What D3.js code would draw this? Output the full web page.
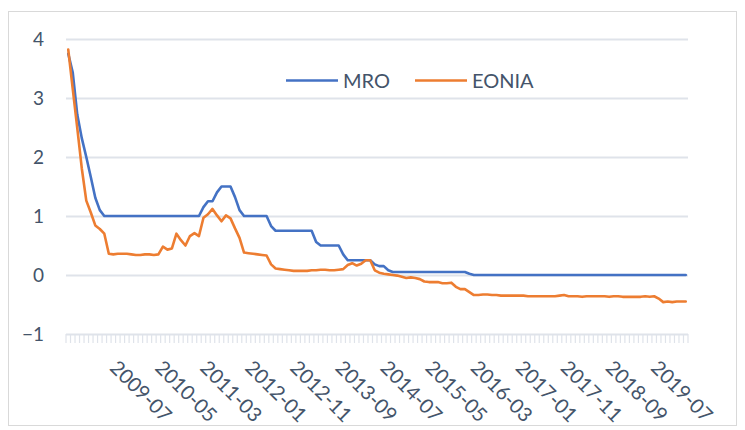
<!DOCTYPE html>
<html>
<head>
<meta charset="utf-8">
<script src="https://cdn.jsdelivr.net/npm/d3@7"></script>
<style>
  html, body { margin: 0; padding: 0; background: #fff; }
  svg { display: block; font-family: Lato, "Open Sans", sans-serif; }
</style>
</head>
<body>
<svg id="chart" width="745" height="430"></svg>
<script>
// ---- data ----
const startMonth = "2008-10";
const mro = [
  3.75, 3.43, 2.72,
  2.32, 2.00, 1.66, 1.31, 1.10, 1.00, 1.00, 1.00, 1.00, 1.00, 1.00, 1.00,
  1.00, 1.00, 1.00, 1.00, 1.00, 1.00, 1.00, 1.00, 1.00, 1.00, 1.00, 1.00,
  1.00, 1.00, 1.00, 1.15, 1.25, 1.25, 1.40, 1.50, 1.50, 1.50, 1.32, 1.10,
  1.00, 1.00, 1.00, 1.00, 1.00, 1.00, 0.83, 0.75, 0.75, 0.75, 0.75, 0.75,
  0.75, 0.75, 0.75, 0.75, 0.56, 0.50, 0.50, 0.50, 0.50, 0.50, 0.35, 0.25,
  0.25, 0.25, 0.25, 0.25, 0.25, 0.18, 0.15, 0.15, 0.08, 0.05, 0.05, 0.05,
  0.05, 0.05, 0.05, 0.05, 0.05, 0.05, 0.05, 0.05, 0.05, 0.05, 0.05, 0.05,
  0.05, 0.05, 0.02, 0.00, 0.00, 0.00, 0.00, 0.00, 0.00, 0.00, 0.00, 0.00,
  0.00, 0.00, 0.00, 0.00, 0.00, 0.00, 0.00, 0.00, 0.00, 0.00, 0.00, 0.00,
  0.00, 0.00, 0.00, 0.00, 0.00, 0.00, 0.00, 0.00, 0.00, 0.00, 0.00, 0.00,
  0.00, 0.00, 0.00, 0.00, 0.00, 0.00, 0.00, 0.00, 0.00, 0.00, 0.00, 0.00,
  0.00, 0.00, 0.00
];
const eonia = [
  3.82, 3.15, 2.49,
  1.81, 1.26, 1.06, 0.84, 0.78, 0.70, 0.36, 0.35, 0.36, 0.36, 0.36, 0.35,
  0.34, 0.34, 0.35, 0.35, 0.34, 0.35, 0.48, 0.43, 0.45, 0.70, 0.59, 0.50,
  0.66, 0.71, 0.66, 0.97, 1.03, 1.12, 1.01, 0.91, 1.01, 0.96, 0.79, 0.63,
  0.38, 0.37, 0.36, 0.35, 0.34, 0.33, 0.18, 0.11, 0.10, 0.09, 0.08, 0.07,
  0.07, 0.07, 0.07, 0.08, 0.08, 0.09, 0.09, 0.08, 0.08, 0.09, 0.10, 0.17,
  0.20, 0.16, 0.19, 0.25, 0.25, 0.08, 0.04, 0.02, 0.01, 0.00, -0.01, -0.03,
  -0.05, -0.04, -0.05, -0.07, -0.11, -0.12, -0.12, -0.12, -0.14, -0.14, -0.13, -0.20,
  -0.24, -0.24, -0.29, -0.34, -0.34, -0.33, -0.33, -0.34, -0.34, -0.35, -0.35, -0.35,
  -0.35, -0.35, -0.35, -0.36, -0.36, -0.36, -0.36, -0.36, -0.36, -0.36, -0.35, -0.34,
  -0.36, -0.36, -0.36, -0.37, -0.36, -0.36, -0.36, -0.36, -0.36, -0.37, -0.36, -0.36,
  -0.37, -0.37, -0.37, -0.37, -0.37, -0.36, -0.37, -0.36, -0.40, -0.46, -0.45, -0.46,
  -0.45, -0.45, -0.45
];
const yTicks = [-1, 0, 1, 2, 3, 4];
const xTickLabels = ["2009-07", "2010-05", "2011-03", "2012-01", "2012-11", "2013-09",
  "2014-07", "2015-05", "2016-03", "2017-01", "2017-11", "2018-09", "2019-07"];
const seriesNames = ["MRO", "EONIA"];
const seriesColors = ["#4472C4", "#ED7D31"];

// categories (month strings) built from the start month and the series length
const fmt = d3.timeFormat("%Y-%m");
const start = d3.timeParse("%Y-%m")(startMonth);
const categories = d3.range(mro.length).map(i => fmt(d3.timeMonth.offset(start, i)));

// ---- layout ----
const svg = d3.select("#chart");
const pLeft = 66, pRight = 688, pTop = 39, pBottom = 334;
const textColor = "#44546A";
const gridColor = "#DFE3EA";

// outer border
svg.append("rect")
  .attr("x", 8.5).attr("y", 11.5).attr("width", 728).attr("height", 414)
  .attr("fill", "none").attr("stroke", "#D9D9D9").attr("stroke-width", 1);

const x = d3.scaleBand().domain(categories).range([pLeft, pRight]).paddingInner(0).paddingOuter(0);
const y = d3.scaleLinear().domain([-1, 4]).range([pBottom, pTop]);

// y grid + labels
const yAxis = svg.append("g")
  .attr("transform", `translate(${pLeft},0)`)
  .call(d3.axisLeft(y).tickValues(yTicks).tickSize(-(pRight - pLeft)).tickPadding(22).tickFormat(d3.format("d")));
yAxis.select(".domain").remove();
yAxis.selectAll(".tick line").attr("stroke", gridColor).attr("stroke-width", 2);
yAxis.selectAll(".tick text")
  .attr("fill", textColor).attr("font-size", 19).attr("font-family", "Lato, sans-serif");

// x axis ticks (between categories)
const tickPos = categories.map(c => x(c)).concat([pRight]);
svg.append("g").selectAll("line").data(tickPos).join("line")
  .attr("x1", d => d).attr("x2", d => d)
  .attr("y1", pBottom).attr("y2", pBottom + 9)
  .attr("stroke", gridColor).attr("stroke-width", 1.2);

// x labels
svg.append("g").selectAll("text").data(xTickLabels).join("text")
  .attr("transform", d => `translate(${x(d) + x.bandwidth() / 2},${pBottom + 35}) rotate(45)`)
  .attr("text-anchor", "start")
  .attr("fill", textColor)
  .attr("font-size", 20)
  .text(d => d);

// lines
const line = d3.line()
  .x((d, i) => x(categories[i]) + x.bandwidth() / 2)
  .y(d => y(d));
[mro, eonia].forEach((s, k) => {
  svg.append("path")
    .datum(s)
    .attr("d", line)
    .attr("fill", "none")
    .attr("stroke", seriesColors[k])
    .attr("stroke-width", 2.6)
    .attr("stroke-linejoin", "round")
    .attr("stroke-linecap", "round");
});

// legend
const legendItems = [
  { name: seriesNames[0], color: seriesColors[0], x0: 286 },
  { name: seriesNames[1], color: seriesColors[1], x0: 415 }
];
const lg = svg.append("g");
legendItems.forEach(it => {
  lg.append("line")
    .attr("x1", it.x0).attr("x2", it.x0 + 52)
    .attr("y1", 80.5).attr("y2", 80.5)
    .attr("stroke", it.color).attr("stroke-width", 2.6);
  lg.append("text")
    .attr("x", it.x0 + 57).attr("y", 88)
    .attr("fill", textColor).attr("font-size", 20)
    .text(it.name);
});
</script>
</body>
</html>
